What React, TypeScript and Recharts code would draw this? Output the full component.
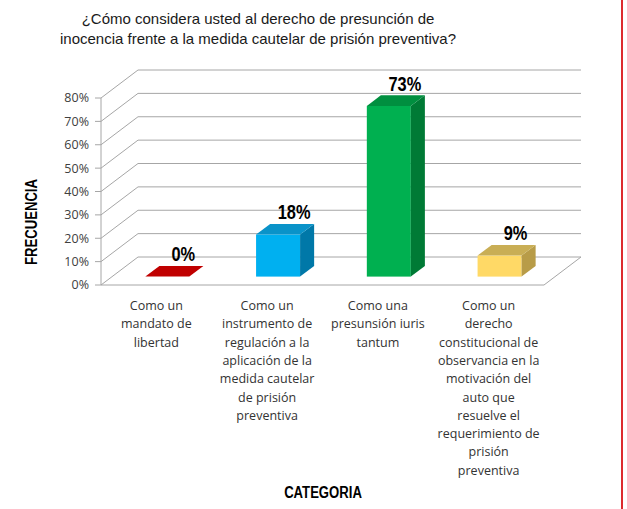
import React from 'react';
import { BarChart, Bar, XAxis, YAxis, CartesianGrid } from 'recharts';

// Survey answers (x-axis categories, line breaks as printed)
const categories = [
  'Como un\nmandato de\nlibertad',
  'Como un\ninstrumento de\nregulación a la\naplicación de la\nmedida cautelar\nde prisión\npreventiva',
  'Como una\npresunsión iuris\ntantum',
  'Como un\nderecho\nconstitucional de\nobservancia en la\nmotivación del\nauto que\nresuelve el\nrequerimiento de\nprisión\npreventiva',
];

// Share of respondents per answer (%)
const percentages = [0, 18, 73, 9];

// Value axis ticks (%)
const yTicks = [0, 10, 20, 30, 40, 50, 60, 70, 80];

const titleLines = [
  '¿Cómo considera usted al derecho de presunción de',
  'inocencia frente a la medida cautelar de prisión preventiva?',
];

// front / top / side shades for each bar
const barPalette = [
  { front: '#C00000', top: '#C00000', side: '#8E0000' },
  { front: '#00B0F0', top: '#0A93C9', side: '#0078A8' },
  { front: '#00B050', top: '#008F3F', side: '#007A35' },
  { front: '#FFD966', top: '#C9AE55', side: '#B89C48' },
];

const data = categories.map((categoria, i) => ({ categoria, valor: percentages[i], idx: i }));

// layout
const CW = 627;
const CH = 509;
const PLOT_LEFT = 101;
const PLOT_RIGHT = 544;
const PLOT_TOP = 98;
const PLOT_BOTTOM = 285;
const YAXIS_W = 60;
const XAXIS_H = 200;
const DEPTH_X = 37;
const DEPTH_Y = -28;
const BAR_FRONT = 0.3;
const BAR_BACK = 0.68;

const GRID = '#a6a6a6';
const BOLD_FONT = "'Liberation Sans', Arial, sans-serif";
const CONDENSE = 0.82;
const LABEL_FONT = "'Open Sans', sans-serif";

// bold text squeezed horizontally (narrow face look)
const NarrowText = ({ x, y, size, rotate = 0, children }: any) => (
  <g transform={`translate(${x} ${y}) rotate(${rotate}) scale(${CONDENSE} 1)`}>
    <text x={0} y={0} textAnchor="middle" fontFamily={BOLD_FONT} fontWeight="bold" fontSize={size} fill="#000">
      {children}
    </text>
  </g>
);

const gridLine = (props: any) => {
  const { x1, x2, y1, index } = props;
  const bx1 = x1 + DEPTH_X;
  const bx2 = x2 + DEPTH_X;
  const by = y1 + DEPTH_Y;
  const isFloor = Math.abs(y1 - PLOT_BOTTOM) < 0.6;
  return (
    <g key={`grid-${index}`}>
      <line x1={x1} y1={y1} x2={bx1} y2={by} stroke={GRID} strokeWidth={1} />
      <line x1={bx1} y1={by} x2={bx2} y2={by} stroke={GRID} strokeWidth={1} />
      {isFloor && <line x1={x2} y1={y1} x2={bx2} y2={by} stroke={GRID} strokeWidth={1} />}
    </g>
  );
};

const Bar3D = (props: any) => {
  const { x, y, width, height, payload } = props;
  const colors = barPalette[payload.idx % barPalette.length];
  const fx = DEPTH_X * BAR_FRONT;
  const fy = DEPTH_Y * BAR_FRONT;
  const dx = DEPTH_X * (BAR_BACK - BAR_FRONT);
  const dy = DEPTH_Y * (BAR_BACK - BAR_FRONT);
  const h = Math.max(0, height || 0);
  const x0 = x + fx;
  const yBot = y + h + fy;
  const yTop = yBot - h;
  const top = `${x0},${yTop} ${x0 + width},${yTop} ${x0 + width + dx},${yTop + dy} ${x0 + dx},${yTop + dy}`;
  const side = `${x0 + width},${yTop} ${x0 + width + dx},${yTop + dy} ${x0 + width + dx},${yBot + dy} ${x0 + width},${yBot}`;
  return (
    <g>
      {h > 0 && <rect x={x0} y={yTop} width={width} height={h} fill={colors.front} />}
      {h > 0 && <polygon points={side} fill={colors.side} />}
      <polygon points={top} fill={colors.top} />
      <NarrowText x={x0 + width / 2 + 16} y={yTop + dy - 4.5} size={20}>
        {`${payload.valor}%`}
      </NarrowText>
    </g>
  );
};

const CategoryTick = (props: any) => {
  const { x, payload } = props;
  const lines = String(payload.value).split('\n');
  return (
    <text x={x} y={PLOT_BOTTOM + 25} textAnchor="middle" fontFamily={LABEL_FONT} fontSize={12.5} fill="#333">
      {lines.map((l, i) => (
        <tspan key={i} x={x} dy={i === 0 ? 0 : 18.3}>
          {l}
        </tspan>
      ))}
    </text>
  );
};

const YTitle = () => (
  <NarrowText x={37} y={222} rotate={-90} size={16}>
    FRECUENCIA
  </NarrowText>
);

const XTitle = () => (
  <NarrowText x={323} y={498} size={16}>
    CATEGORIA
  </NarrowText>
);

export default function App() {
  return (
    <div style={{ position: 'absolute', left: 0, top: 0, width: CW, height: CH, background: '#fff' }}>
      <BarChart
        width={CW}
        height={CH}
        data={data}
        barCategoryGap="30%"
        margin={{
          top: PLOT_TOP,
          right: CW - PLOT_RIGHT,
          left: PLOT_LEFT - YAXIS_W,
          bottom: CH - PLOT_BOTTOM - XAXIS_H,
        }}
      >
        <CartesianGrid vertical={false} horizontal={gridLine} />
        <XAxis
          dataKey="categoria"
          height={XAXIS_H}
          interval={0}
          tickLine={false}
          axisLine={{ stroke: GRID }}
          tick={<CategoryTick />}
          label={<XTitle />}
        />
        <YAxis
          width={YAXIS_W}
          domain={[0, 80]}
          ticks={yTicks}
          interval={0}
          tickFormatter={(v: number) => `${v}%`}
          axisLine={{ stroke: GRID }}
          tickLine={{ stroke: GRID }}
          tickSize={6}
          tickMargin={6}
          tick={{ fontFamily: LABEL_FONT, fontSize: 12.5, fill: '#404040' }}
          label={<YTitle />}
        />
        <Bar dataKey="valor" shape={<Bar3D />} isAnimationActive={false} />
      </BarChart>
      <svg width={CW} height={60} style={{ position: 'absolute', left: 0, top: 0, pointerEvents: 'none' }}>
        {titleLines.map((t, i) => (
          <text
            key={i}
            x={258}
            y={24 + i * 19.5}
            textAnchor="middle"
            fontFamily="'Liberation Sans', Arial, sans-serif"
            fontSize={15}
            fill="#1a1a1a"
          >
            {t}
          </text>
        ))}
      </svg>
      <div style={{ position: 'absolute', left: 621, top: 0, width: 2, height: CH, background: '#dc2a2e' }} />
    </div>
  );
}
